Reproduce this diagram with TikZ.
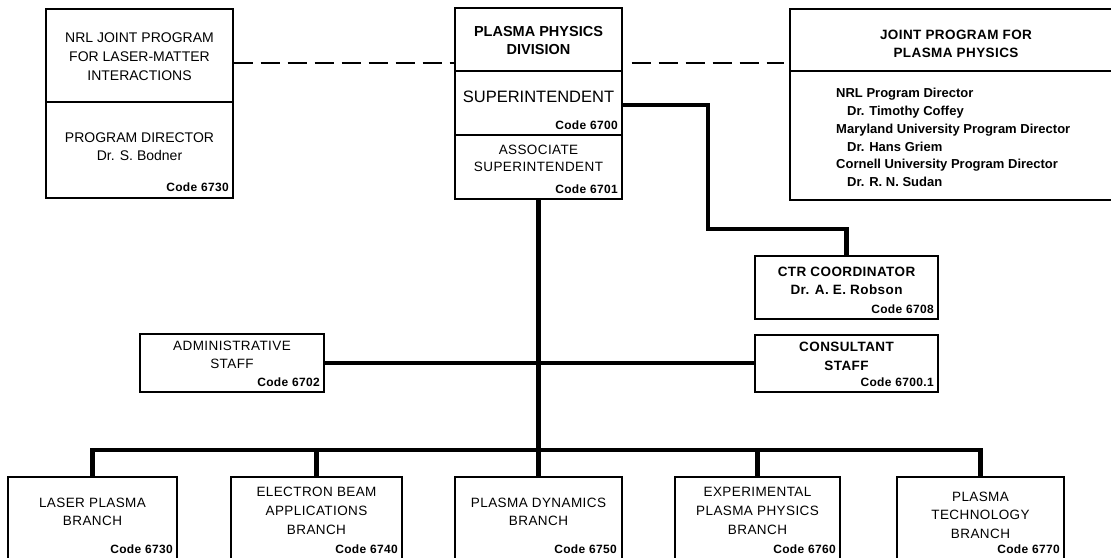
\documentclass[tikz,border=0pt]{standalone}
\usepackage{fontspec}
\setmainfont{Liberation Sans}
\newfontfamily\lsf[LetterSpace=3]{Liberation Sans}
\begin{document}
\begin{tikzpicture}[x=1pt,y=-1pt,
  box/.style={draw, line width=1.4pt, inner sep=0pt},
  divline/.style={line width=1.4pt},
  conn/.style={line width=4.5pt, line join=miter},
  dashlink/.style={line width=2pt, dash pattern=on 19pt off 8pt},
  txt/.style={inner sep=0pt, align=center},
  big/.style={txt, font=\fontsize{14}{19}\selectfont},
  branch/.style={txt, font=\lsf\fontsize{13.5}{18.5}\selectfont},
  boldt/.style={txt, font=\lsf\bfseries\fontsize{13.5}{18}\selectfont},
  code/.style={inner sep=0pt, anchor=east, font=\lsf\bfseries\fontsize{12}{14}\selectfont}]
\useasboundingbox (0,0) rectangle (1111,557);
\clip (0,0) rectangle (1111,557);

% ---- boxes ----
\node[box, minimum width=187pt, minimum height=189pt] (nrl) at (139.5,103.5) {};
\node[box, minimum width=167pt, minimum height=191pt] (div) at (538.5,103.5) {};
\node[box, minimum width=332pt, minimum height=191pt] (jp) at (956,104.5) {};
\node[box, minimum width=183pt, minimum height=63pt] (ctr) at (846.5,287.5) {};
\node[box, minimum width=183pt, minimum height=57pt] (cons) at (846.5,363.5) {};
\node[box, minimum width=184pt, minimum height=58pt] (adm) at (232,363) {};
\node[box, minimum width=169pt, minimum height=103pt] (b1) at (92.5,528.5) {};
\node[box, minimum width=171pt, minimum height=103pt] (b2) at (316.5,528.5) {};
\node[box, minimum width=167pt, minimum height=103pt] (b3) at (538.5,528.5) {};
\node[box, minimum width=165pt, minimum height=103pt] (b4) at (757.5,528.5) {};
\node[box, minimum width=167pt, minimum height=103pt] (b5) at (980.5,528.5) {};

% dividers
\draw[divline] (nrl.west |- 0,102) -- (nrl.east |- 0,102);
\draw[divline] (div.west |- 0,71) -- (div.east |- 0,71);
\draw[divline] (div.west |- 0,135) -- (div.east |- 0,135);
\draw[divline] (jp.west |- 0,71) -- (jp.east |- 0,71);

% ---- texts ----
\node[big] (nrlt) at (139.5,57) {NRL JOINT PROGRAM\\FOR LASER-MATTER\\INTERACTIONS};
\node[big, font=\fontsize{14}{18}\selectfont] (nrlb) at (139.5,146.5) {PROGRAM DIRECTOR\\Dr. S. Bodner};
\node[code] (nrlc) at (229,187) {Code 6730};

\node[txt, font=\bfseries\fontsize{14.5}{18}\selectfont] (divt) at (538.5,41) {PLASMA PHYSICS\\DIVISION};
\node[txt, font=\fontsize{16.5}{18}\selectfont] (divs) at (538.5,97) {SUPERINTENDENT};
\node[code] (divc1) at (618,125) {Code 6700};
\node[txt, font=\lsf\fontsize{13.5}{17}\selectfont] (diva) at (538.5,158.5) {ASSOCIATE\\SUPERINTENDENT};
\node[code] (divc2) at (618,189) {Code 6701};

\node[boldt] (jpt) at (956,44) {JOINT PROGRAM FOR\\PLASMA PHYSICS};
\node[txt, align=left, anchor=west, font=\bfseries\fontsize{13}{17.8}\selectfont] (jpb) at (836,137.5)
  {NRL Program Director\\\hspace*{11pt}Dr. Timothy Coffey\\Maryland University Program Director\\\hspace*{11pt}Dr. Hans Griem\\Cornell University Program Director\\\hspace*{11pt}Dr. R. N. Sudan};

\node[boldt] (ctrt) at (846.5,281) {CTR COORDINATOR\\Dr. A. E. Robson};
\node[code] (ctrc) at (934,309) {Code 6708};

\node[boldt, font=\lsf\bfseries\fontsize{13.5}{19}\selectfont] (const) at (846.5,356.5) {CONSULTANT\\STAFF};
\node[code] (consc) at (934,382) {Code 6700.1};

\node[branch, font=\lsf\fontsize{13.5}{18}\selectfont] (admt) at (232,355) {ADMINISTRATIVE\\STAFF};
\node[code] (admc) at (320,382) {Code 6702};

\node[branch] (b1t) at (92.5,512) {LASER PLASMA\\BRANCH};
\node[code] (b1c) at (173,549) {Code 6730};
\node[branch, font=\lsf\fontsize{13.5}{19}\selectfont] (b2t) at (316.5,511) {ELECTRON BEAM\\APPLICATIONS\\BRANCH};
\node[code] (b2c) at (398,549) {Code 6740};
\node[branch] (b3t) at (538.5,512) {PLASMA DYNAMICS\\BRANCH};
\node[code] (b3c) at (617,549) {Code 6750};
\node[branch, font=\lsf\fontsize{13.5}{19}\selectfont] (b4t) at (757.5,511) {EXPERIMENTAL\\PLASMA PHYSICS\\BRANCH};
\node[code] (b4c) at (836,549) {Code 6760};
\node[branch] (b5t) at (980.5,515) {PLASMA\\TECHNOLOGY\\BRANCH};
\node[code] (b5c) at (1060,549) {Code 6770};

% ---- connectors ----
\draw[dashlink] (nrl.east |- 0,63) -- (div.west |- 0,63);
\draw[dashlink, shorten <=9pt, shorten >=5pt] (div.east |- 0,63) -- (jp.west |- 0,63);

\coordinate (s1) at (708,105);
\coordinate (s2) at (708,229);
\draw[conn] (div.east |- s1) -- (s1) -- (s2) -- (ctr.north |- s2) -- (ctr.north);

\coordinate (bus) at (539,450);
\draw[conn] (div.south) -- (div.south |- bus);
\draw[conn] (adm.east) -- (adm.east -| cons.west);
\draw[conn] (b1.north) -- (b1.north |- bus) -- (b5.north |- bus) -- (b5.north);
\draw[conn] (b2.north) -- (b2.north |- bus);
\draw[conn] (b3.north) -- (b3.north |- bus);
\draw[conn] (b4.north) -- (b4.north |- bus);
\end{tikzpicture}
\end{document}
